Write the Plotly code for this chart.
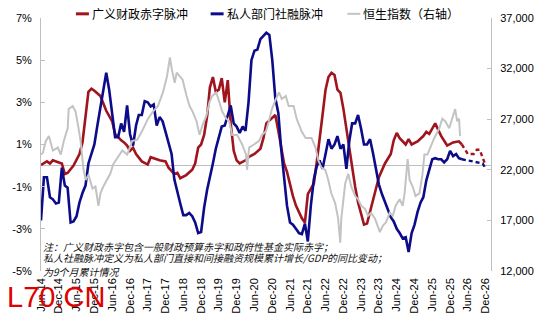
import pandas as pd
import plotly.graph_objects as go

# ---------------- data ----------------
# 广义财政赤字脉冲 (%), actual
fiscal_dates = ["2014-06", "2014-08", "2014-09", "2014-10", "2014-12", "2015-01", "2015-02", "2015-03",
                "2015-05", "2015-06", "2015-07", "2015-08", "2015-09", "2015-10", "2015-11", "2015-12",
                "2016-02", "2016-03", "2016-04", "2016-06", "2016-07", "2016-09", "2016-10", "2016-11",
                "2016-12", "2017-01", "2017-02", "2017-04", "2017-06", "2017-07", "2017-08", "2017-10",
                "2017-12", "2018-01", "2018-03", "2018-04", "2018-05", "2018-07", "2018-09", "2018-10",
                "2018-11", "2018-12", "2019-01", "2019-02", "2019-03", "2019-04", "2019-05", "2019-06",
                "2019-07", "2019-08", "2019-09", "2019-10", "2019-11", "2019-12", "2020-01", "2020-03",
                "2020-04", "2020-06", "2020-08", "2020-09", "2020-10", "2020-12", "2021-01", "2021-02",
                "2021-03", "2021-04", "2021-05", "2021-06", "2021-07", "2021-08", "2021-09", "2021-10",
                "2021-11", "2021-12", "2022-01", "2022-02", "2022-03", "2022-04", "2022-05", "2022-06",
                "2022-07", "2022-08", "2022-09", "2022-10", "2022-11", "2022-12", "2023-01", "2023-02",
                "2023-03", "2023-04", "2023-05", "2023-06", "2023-07", "2023-08", "2023-09", "2023-10",
                "2023-11", "2023-12", "2024-02", "2024-04", "2024-05", "2024-06", "2024-07", "2024-09",
                "2024-10", "2024-11", "2025-01", "2025-03", "2025-04", "2025-05", "2025-07", "2025-08",
                "2025-09", "2025-11", "2026-01", "2026-03", "2026-04"]
fiscal_vals = [0.03, 0.2, 0.1, 0.25, 0.15, 0.1, -0.4, -0.35,
               0.0, 0.3, 0.55, 1.1, 2.3, 3.5, 3.65, 3.55,
               3.3, 2.95, 2.6, 2.1, 1.5, 1.2, 1.1, 0.95,
               0.7, 0.85, 0.55, 0.2, 0.05, 0.4, 0.35, 0.25,
               0.2, -0.1, -0.4, -0.35, -0.6, -0.45, -0.2, 0.1,
               0.85, 1.0, 1.45, 2.35, 3.7, 4.2, 3.5, 3.6,
               4.15, 3.0, 4.05, 2.0, 0.7, 0.25, 0.1, 0.25,
               0.4, 0.55, 0.8, 1.3, 2.0, 2.25, 2.4, 1.65,
               0.9, 0.1, -0.3, -0.95, -1.45, -1.9, -2.2, -2.5,
               -2.7, -1.35, -1.1, -0.85, 0.1, 1.15, 2.4, 3.6,
               4.2, 4.4, 4.3, 3.6, 3.45, 2.7, 1.7, 0.9,
               -0.2, -1.0, -1.75, -2.3, -2.8, -2.75, -2.2, -1.6,
               -1.1, -0.55, 0.1, 0.55, 1.2, 1.55, 1.3, 1.0,
               1.25, 1.0, 1.15, 1.4, 1.6, 1.5, 2.0, 1.7,
               1.4, 0.95, 1.1, 1.15, 1.0]
# 广义财政赤字脉冲 (%), projection
fiscal_fc_dates = ["2026-04", "2026-06", "2026-08", "2026-09", "2026-10", "2026-11", "2026-12"]
fiscal_fc_vals = [1.0, 0.55, 0.55, 0.75, 0.75, 0.4, 0.0]

# 私人部门社融脉冲 (%), monthly from Jun-2014, actual
credit_start = "2014-06"
credit_vals = [-2.6, -0.55, -0.55, -1.5, -1.6, -1.8, -1.75, -0.1, -0.95, -1.05,
               -2.7, -2.65, -2.4, -1.75, -1.3, -0.95, 0.1, 0.6, 1.0, 1.9,
               2.8, 3.5, 4.4, 3.6, 2.4, 1.35, 1.35, 2.0, 1.6, 2.85,
               1.5, 0.95, 1.9, 2.4, 2.4, 3.05, 3.0, 2.8, 2.9, 1.9,
               2.3, 2.1, 1.6, 1.0, 0.55, -0.65, -1.3, -1.8, -2.35, -2.35,
               -2.25, -2.4, -2.7, -3.2, -3.15, -2.0, -1.15, -0.6, 0.1, 0.8,
               1.3, 1.85, 1.9, 2.4, 2.85, 2.0, 1.85, 1.55, 1.85, 1.65,
               3.0, 5.0, 5.45, 5.5, 6.0, 6.15, 6.3, 6.2, 5.0, 3.2,
               2.5, 0.85, -0.65, -1.9, -2.7, -2.8, -3.0, -3.2, -3.25, -2.75,
               -3.6, -1.9, -0.65, -0.05, 0.25, -0.15, 0.55, 1.25, 0.8, 1.0,
               1.4, 0.8, 1.0, -0.15, 1.2, 2.0, 2.0, 2.4, 1.75, 1.0,
               1.0, 1.25, 0.6, -0.2, -0.9, -1.35, -1.7, -2.05, -2.45, -2.65,
               -3.0, -3.2, -3.45, -3.4, -4.1, -3.2, -2.8, -2.2, -1.75, -1.5,
               -0.7, -0.2, 0.3, 0.35, 0.3, 0.3, 0.15, 0.3, 0.7, 0.45,
               0.55, 0.35, 0.3]
# 私人部门社融脉冲 (%), projection
credit_fc_dates = ["2026-04", "2026-06", "2026-08", "2026-10", "2026-11", "2026-12"]
credit_fc_vals = [0.3, 0.25, 0.2, 0.15, 0.1, -0.15]

# 恒生指数 (right axis)
hsi_dates = ["2014-06-01", "2014-06-21", "2014-07-21", "2014-08-21", "2014-10-01", "2014-11-21",
             "2014-12-21", "2015-01-21", "2015-03-02", "2015-03-12", "2015-04-22", "2015-05-22",
             "2015-06-22", "2015-07-12", "2015-08-02", "2015-08-12", "2015-09-02", "2015-10-02",
             "2015-11-12", "2015-12-12", "2016-01-12", "2016-02-02", "2016-03-02", "2016-04-12",
             "2016-05-12", "2016-06-12", "2016-08-03", "2016-09-13", "2016-11-03", "2016-12-23",
             "2017-02-13", "2017-04-03", "2017-06-04", "2017-07-24", "2017-09-14", "2017-11-04",
             "2017-12-15", "2018-01-15", "2018-02-05", "2018-03-05", "2018-03-25", "2018-04-25",
             "2018-05-25", "2018-07-05", "2018-08-05", "2018-09-05", "2018-10-15", "2018-11-15",
             "2018-12-15", "2019-01-25", "2019-02-25", "2019-03-25", "2019-05-06", "2019-06-06",
             "2019-07-06", "2019-08-16", "2019-09-16", "2019-10-16", "2019-12-06", "2020-01-27",
             "2020-03-07", "2020-03-17", "2020-04-07", "2020-05-27", "2020-07-17", "2020-08-17",
             "2020-09-27", "2020-10-27", "2020-11-27", "2021-01-08", "2021-02-08", "2021-03-08",
             "2021-04-18", "2021-05-18", "2021-07-08", "2021-08-08", "2021-09-28", "2021-11-08",
             "2022-01-08", "2022-02-18", "2022-03-18", "2022-04-18", "2022-05-29", "2022-06-29",
             "2022-07-29", "2022-09-08", "2022-10-08", "2022-10-30", "2022-11-10", "2022-12-20",
             "2023-01-20", "2023-02-20", "2023-04-01", "2023-05-01", "2023-06-01", "2023-07-11",
             "2023-08-11", "2023-09-11", "2023-10-21", "2023-12-11", "2024-01-11", "2024-02-11",
             "2024-03-21", "2024-04-21", "2024-05-21", "2024-07-01", "2024-08-01", "2024-08-21",
             "2024-09-21", "2024-10-11", "2024-11-11", "2024-12-11", "2025-01-21", "2025-02-21",
             "2025-03-12", "2025-04-12", "2025-05-12", "2025-06-22", "2025-08-12", "2025-09-12",
             "2025-10-12", "2025-11-22", "2025-12-22", "2026-01-22", "2026-02-12", "2026-03-03",
             "2026-03-13"]
hsi_vals = [23500, 23700, 24850, 25350, 23900, 24200,
            23500, 24850, 26100, 28000, 28300, 27750,
            26100, 24850, 22950, 22000, 21000, 21500,
            20150, 20350, 18450, 19700, 20350, 21000,
            21600, 22550, 23250, 23900, 23500, 24850,
            24950, 25800, 27050, 27750, 28300, 29650,
            31200, 33100, 31850, 30600, 31600, 31200,
            30900, 29300, 28300, 27750, 26800, 25450,
            26400, 27350, 28700, 29300, 29650, 28700,
            27750, 27050, 26800, 25450, 25450, 24500,
            23500, 22000, 24200, 24500, 24850, 25450,
            25800, 26800, 28000, 29000, 29650, 29000,
            29300, 28300, 28300, 27050, 25800, 25150,
            25150, 24200, 22950, 22250, 22000, 21000,
            19700, 18700, 17200, 14800, 17200, 20650,
            21600, 20350, 19400, 19100, 18450, 18150,
            17450, 17750, 17200, 15850, 16500, 16800,
            17750, 17450, 18450, 19100, 18450, 19700,
            23050, 21000, 20350, 19400, 19700, 21600,
            23500, 23500, 24200, 25150, 26100, 27050,
            26800, 26100, 27050, 28000, 26800, 27050,
            25350]

# axis ticks
left_ticks = [-5, -3, -1, 1, 3, 5, 7]
right_ticks = [12000, 17000, 22000, 27000, 32000, 37000]
x_tick_dates = pd.date_range("2014-06-01", "2026-12-01", freq="6MS")
x_tick_text = [d.strftime("%b-%y") for d in x_tick_dates]

# series names
name_fiscal = "广义财政赤字脉冲"
name_credit = "私人部门社融脉冲"
name_hsi = "恒生指数（右轴）"

# ---------------- figure ----------------
RED = "#A0141E"
BLUE = "#0C0C8A"
GRAY = "#C3C3C3"
AXIS = "#BFBFBF"

credit_dates = pd.date_range(credit_start + "-01", periods=len(credit_vals), freq="MS")

fig = go.Figure()
fig.add_trace(go.Scatter(x=pd.to_datetime(hsi_dates), y=hsi_vals, yaxis="y2", mode="lines",
                         line=dict(color=GRAY, width=2), name=name_hsi, showlegend=False))
fig.add_trace(go.Scatter(x=pd.to_datetime(fiscal_dates), y=fiscal_vals, mode="lines",
                         line=dict(color=RED, width=2.6), name=name_fiscal, showlegend=False))
fig.add_trace(go.Scatter(x=pd.to_datetime(fiscal_fc_dates), y=fiscal_fc_vals, mode="lines",
                         line=dict(color=RED, width=2.4, dash="4px,3px"), showlegend=False))
fig.add_trace(go.Scatter(x=credit_dates, y=credit_vals, mode="lines",
                         line=dict(color=BLUE, width=2.6), name=name_credit, showlegend=False))
fig.add_trace(go.Scatter(x=pd.to_datetime(credit_fc_dates), y=credit_fc_vals, mode="lines",
                         line=dict(color=BLUE, width=2.4, dash="4px,3px"), showlegend=False))

TICKFONT = dict(family="Liberation Sans, Arial, sans-serif", size=11, color="#000000")

fig.update_layout(
    width=550, height=326,
    margin=dict(l=40, r=59, t=16, b=49, pad=0),
    paper_bgcolor="white", plot_bgcolor="white",
    showlegend=False,
    xaxis=dict(type="date", range=["2014-06-01", "2027-01-25"],
               tickvals=x_tick_dates, ticktext=x_tick_text, tickangle=-90,
               tickfont=TICKFONT, showgrid=False, showline=False, zeroline=False,
               ticks="", ticklabelstandoff=4),
    yaxis=dict(range=[-5, 7], tickvals=left_ticks, ticktext=[f"{v}%" for v in left_ticks],
               tickfont=TICKFONT, showgrid=False, showline=True, linecolor=AXIS, linewidth=1,
               ticks="inside", ticklen=4, tickcolor=AXIS,
               zeroline=True, zerolinecolor=AXIS, zerolinewidth=1, ticklabelstandoff=6),
    yaxis2=dict(range=[12000, 37000], tickvals=right_ticks, tickformat=",",
                overlaying="y", side="right", tickfont=TICKFONT, showgrid=False,
                showline=True, linecolor=AXIS, linewidth=1, ticks="inside", ticklen=4,
                tickcolor=AXIS, zeroline=False, ticklabelstandoff=6),
)

# legend (drawn manually to match compact swatches)
LEGEND_FONT = dict(family="Noto Sans CJK SC, sans-serif", size=12, color="#000000")
legend_items = [(name_fiscal, RED, 3, 75, 88), (name_credit, BLUE, 3, 210, 223), (name_hsi, GRAY, 2, 347, 360)]
PW = 451.0
PH = 261.0
ly = (277 - 11.7) / PH
for name, col, w, x0, x1 in legend_items:
    fig.add_shape(type="line", xref="paper", yref="paper",
                  x0=(x0 - 40) / PW, x1=(x1 - 40) / PW, y0=ly, y1=ly,
                  line=dict(color=col, width=w))
    fig.add_annotation(xref="paper", yref="paper", x=(x1 + 1 - 40) / PW, y=ly,
                       xanchor="left", yanchor="middle", text=name, showarrow=False,
                       font=LEGEND_FONT)

NOTE_FONT = dict(family="Noto Sans CJK SC, sans-serif", size=10, color="#111111")
notes = [("注：广义财政赤字包含一般财政预算赤字和政府性基金实际赤字；", 252),
         ("私人社融脉冲定义为私人部门直接和间接融资规模累计增长/GDP的同比变动；", 263.5),
         ("为9个月累计情况", 278)]
for txt, py in notes:
    fig.add_annotation(xref="paper", yref="paper", x=0.0, y=(277 - py) / PH,
                       xanchor="left", yanchor="middle", text=f"<i>{txt}</i>",
                       showarrow=False, font=NOTE_FONT)

fig.add_annotation(xref="paper", yref="paper", x=(4 - 40) / PW, y=(277 - 304) / PH,
                   xanchor="left", yanchor="middle", text="L70.CN", showarrow=False,
                   font=dict(family="Liberation Sans, Arial, sans-serif", size=29, color="#E00000"))

fig.write_html("out.html")
